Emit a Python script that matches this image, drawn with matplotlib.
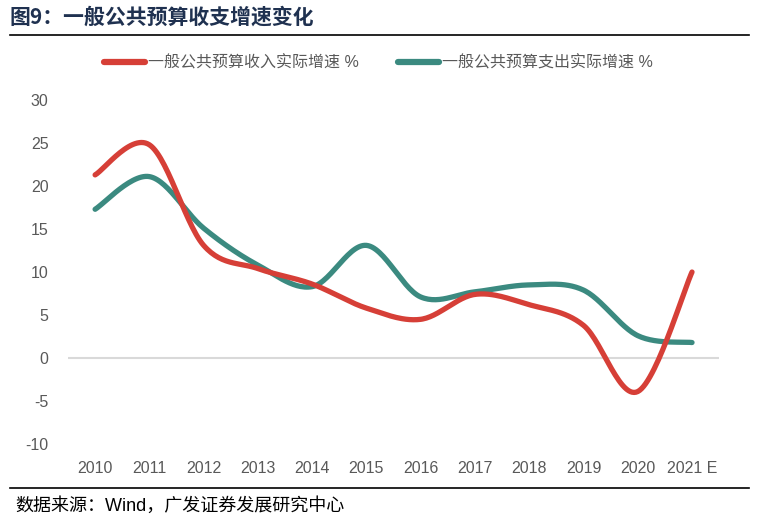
import numpy as np
import matplotlib.pyplot as plt
from matplotlib.lines import Line2D

plt.rcParams['font.family'] = ['Liberation Sans', 'Noto Sans CJK SC', 'DejaVu Sans']
plt.rcParams['axes.unicode_minus'] = False

# data
years = ['2010', '2011', '2012', '2013', '2014', '2015', '2016', '2017', '2018', '2019', '2020', '2021 E']
revenue = [21.3, 24.8, 13.1, 10.4, 8.6, 5.8, 4.5, 7.4, 6.2, 3.8, -3.9, 10.0]
expenditure = [17.3, 21.1, 15.1, 10.8, 8.3, 13.1, 7.1, 7.7, 8.5, 7.9, 2.6, 1.8]
rev_label = '一般公共预算收入实际增速 %'
exp_label = '一般公共预算支出实际增速 %'

red = '#D63F37'
teal = '#3B8A80'
grey = '#595959'


def smooth(y, n=30):
    # Catmull-Rom style smoothing similar to Excel's smoothed line
    y = np.asarray(y, dtype=float)
    x = np.arange(len(y), dtype=float)
    p = np.vstack([x, y]).T
    pts = [p[0]]
    for i in range(len(p) - 1):
        p0 = p[i - 1] if i > 0 else p[i]
        p1 = p[i]
        p2 = p[i + 1]
        p3 = p[i + 2] if i + 2 < len(p) else p[i + 1]
        c1 = p1 + (p2 - p0) / 6
        c2 = p2 - (p3 - p1) / 6
        t = np.linspace(0, 1, n)[1:, None]
        seg = ((1 - t) ** 3) * p1 + 3 * ((1 - t) ** 2) * t * c1 + 3 * (1 - t) * t ** 2 * c2 + t ** 3 * p2
        pts.extend(seg)
    pts = np.array(pts)
    return pts[:, 0], pts[:, 1]


fig = plt.figure(figsize=(7.57, 5.24), dpi=100)
ax = fig.add_axes([0.0898, 0.1527, 0.8602, 0.6563])

xr, yr = smooth(revenue)
xe, ye = smooth(expenditure)
ax.plot(xe, ye, color=teal, linewidth=3.8, solid_capstyle='round', zorder=3)
ax.plot(xr, yr, color=red, linewidth=3.8, solid_capstyle='round', zorder=4)

ax.axhline(0, color='#D9D9D9', linewidth=1.5, zorder=1)
ax.set_xlim(-0.5, len(years) - 0.5)
ax.set_ylim(-10, 30)
ax.set_yticks(range(-10, 31, 5))
ax.set_xticks(range(len(years)))
ax.set_xticklabels(years)
ax.tick_params(axis='both', length=0, labelsize=11.5, colors=grey)
ax.tick_params(axis='x', pad=12)
ax.tick_params(axis='y', pad=14)
for s in ax.spines.values():
    s.set_visible(False)

handles = [Line2D([], [], color=red, linewidth=4.5, solid_capstyle='round'),
           Line2D([], [], color=teal, linewidth=4.5, solid_capstyle='round')]
fig.legend(handles, [rev_label, exp_label], loc='center', bbox_to_anchor=(0.5, 0.88),
           ncol=2, frameon=False, fontsize=11.5, handlelength=2.6, handletextpad=0.2,
           columnspacing=2.4, labelcolor=grey)

fig.text(0.013, 0.967, '图9：一般公共预算收支增速变化', fontsize=15, fontweight='bold',
         color='#1F3150', va='center', ha='left',
         family=['Noto Sans CJK SC', 'DejaVu Sans'])
fig.add_artist(Line2D([0.013, 0.99], [0.933, 0.933], color='black', linewidth=1.2))
fig.add_artist(Line2D([0.013, 0.99], [0.068, 0.068], color='black', linewidth=1.2))
fig.text(0.02, 0.035, '数据来源：Wind，广发证券发展研究中心', fontsize=13, color='black',
         va='center', ha='left')

fig.savefig('out.png', dpi=100)
